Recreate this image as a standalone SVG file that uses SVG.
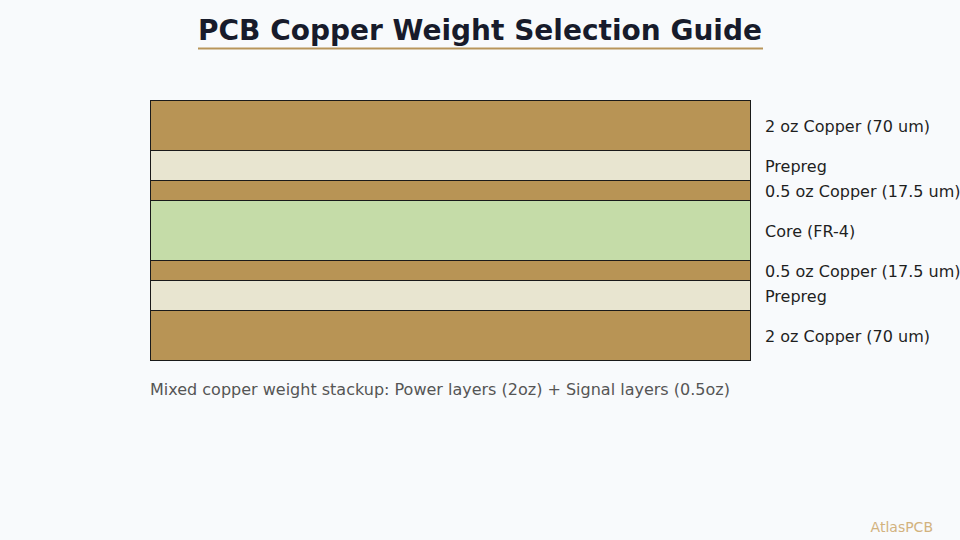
<svg xmlns="http://www.w3.org/2000/svg" width="960" height="540" viewBox="0 0 960 540">
<style>
.layer{stroke:#1a1a1a;stroke-width:1}
.cu{fill:#b89455}
.pp{fill:#e8e5d0}
.core{fill:#c5dca8}
.lbl{font-family:"DejaVu Sans",sans-serif;font-size:16px;fill:#1f1f1f}
</style>
<rect width="960" height="540" fill="#f8fafc"/>
<g id="title">
<text x="480" y="40" text-anchor="middle" font-family="DejaVu Sans,sans-serif" font-weight="bold" font-size="28" fill="#171b2b">PCB Copper Weight Selection Guide</text>
<line x1="198" y1="48.5" x2="763" y2="48.5" stroke="#b8955a" stroke-width="2"/>
</g>
<g id="stackup">
<g id="layer1"><rect class="layer cu" x="150.5" y="100.5" width="600" height="50"/><text class="lbl" x="765" y="131.5">2 oz Copper (70 um)</text></g>
<g id="layer2"><rect class="layer pp" x="150.5" y="150.5" width="600" height="30"/><text class="lbl" x="765" y="171.5">Prepreg</text></g>
<g id="layer3"><rect class="layer cu" x="150.5" y="180.5" width="600" height="20"/><text class="lbl" x="765" y="196.5">0.5 oz Copper (17.5 um)</text></g>
<g id="layer4"><rect class="layer core" x="150.5" y="200.5" width="600" height="60"/><text class="lbl" x="765" y="236.5">Core (FR-4)</text></g>
<g id="layer5"><rect class="layer cu" x="150.5" y="260.5" width="600" height="20"/><text class="lbl" x="765" y="276.5">0.5 oz Copper (17.5 um)</text></g>
<g id="layer6"><rect class="layer pp" x="150.5" y="280.5" width="600" height="30"/><text class="lbl" x="765" y="301.5">Prepreg</text></g>
<g id="layer7"><rect class="layer cu" x="150.5" y="310.5" width="600" height="50"/><text class="lbl" x="765" y="341.5">2 oz Copper (70 um)</text></g>
</g>
<g id="caption"><text x="150" y="395" font-family="DejaVu Sans,sans-serif" font-size="16" fill="#555555">Mixed copper weight stackup: Power layers (2oz) + Signal layers (0.5oz)</text></g>
<g id="watermark"><text x="933" y="532" text-anchor="end" font-family="DejaVu Sans,sans-serif" font-size="14" fill="#d2b27e">AtlasPCB</text></g>
</svg>
